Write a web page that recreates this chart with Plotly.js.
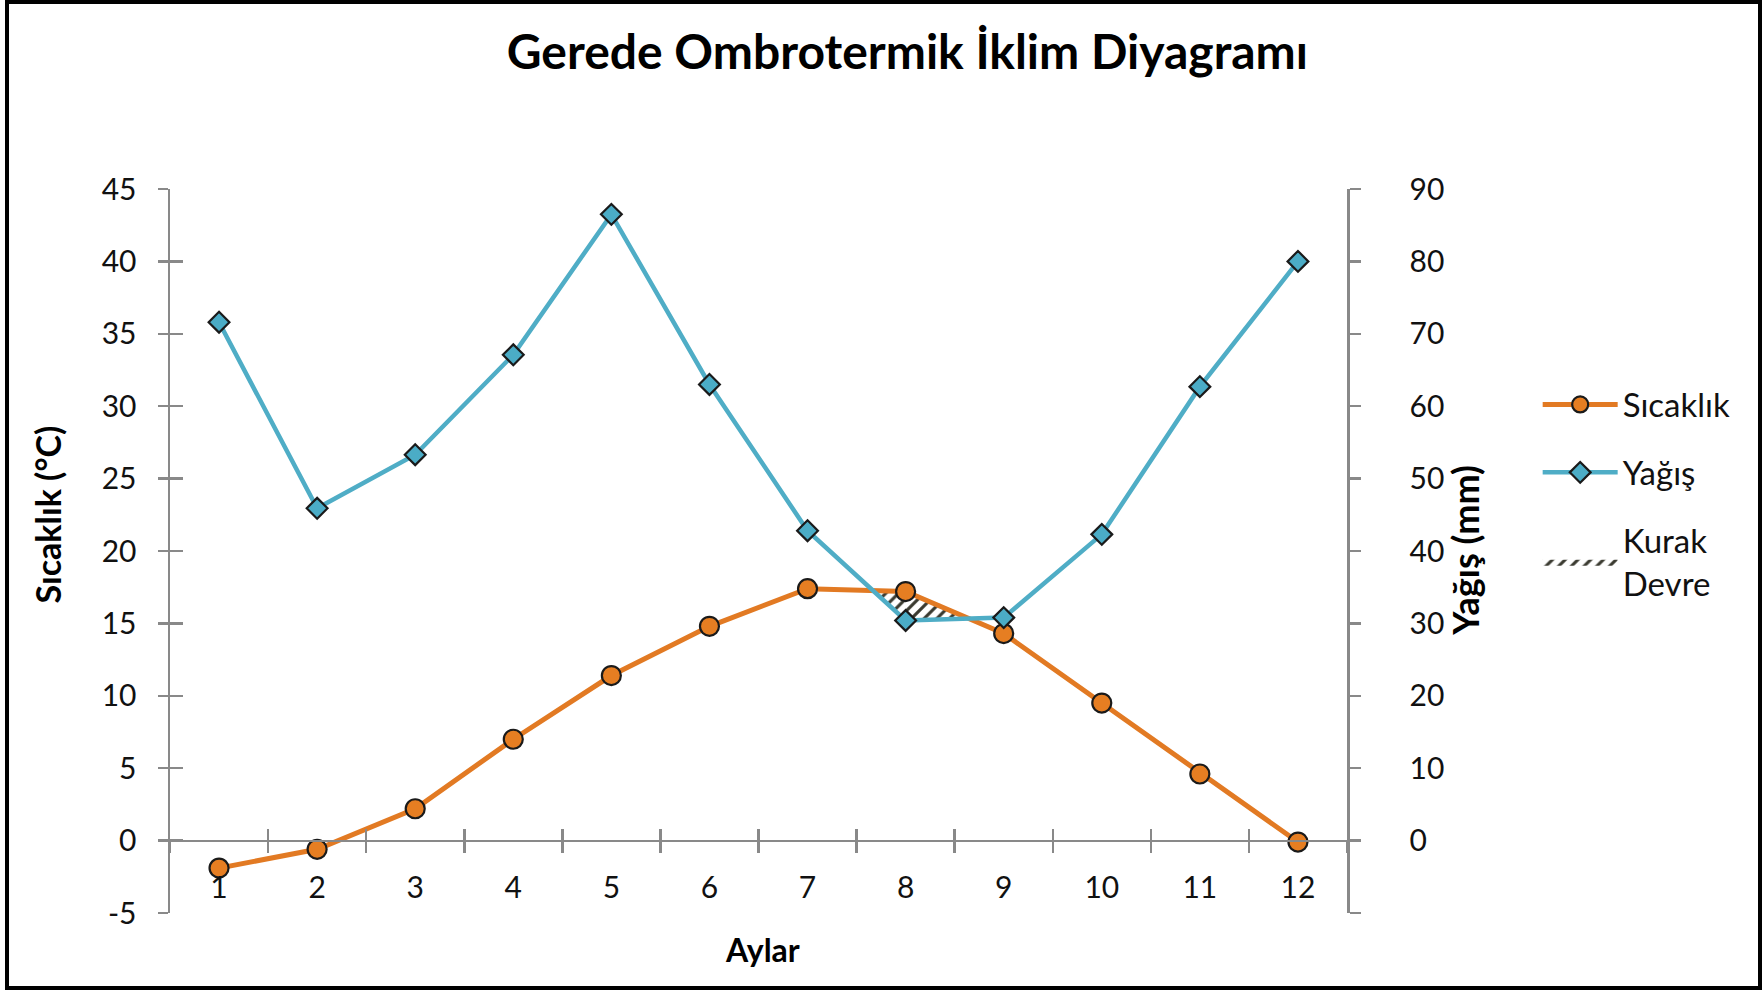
<!DOCTYPE html>
<html>
<head>
<meta charset="utf-8">
<script src="https://cdn.plot.ly/plotly-3.0.1.min.js"></script>
<style>
  html, body { margin: 0; padding: 0; background: #fff; }
  #wrap { position: relative; width: 1762px; height: 991px; }
  #chart { width: 1762px; height: 991px; }
  #frame { position: absolute; left: 5px; top: 0px; right: 0px; bottom: 1px; border: 4px solid #000; pointer-events: none; }
</style>
</head>
<body>
<div id="wrap"><div id="chart"></div><div id="frame"></div></div>
<script>
// ---- data ----
const months = [1, 2, 3, 4, 5, 6, 7, 8, 9, 10, 11, 12];
const monthLabels = ["1", "2", "3", "4", "5", "6", "7", "8", "9", "10", "11", "12"];
const sicaklik = [-1.9, -0.6, 2.2, 7.0, 11.4, 14.8, 17.4, 17.2, 14.3, 9.5, 4.6, -0.1];
const yagis = [71.6, 45.9, 53.3, 67.1, 86.5, 63.0, 42.8, 30.4, 30.8, 42.3, 62.7, 80.0];
const tempTicks = [-5, 0, 5, 10, 15, 20, 25, 30, 35, 40, 45];
const tempTickLabels = ["-5", "0", "5", "10", "15", "20", "25", "30", "35", "40", "45"];
const precTicks = [-10, 0, 10, 20, 30, 40, 50, 60, 70, 80, 90];
const precTickLabels = ["", "0", "10", "20", "30", "40", "50", "60", "70", "80", "90"];

const tempRange = [-5, 45];
const precRange = [-10, 90];
const k = (tempRange[1] - tempRange[0]) / (precRange[1] - precRange[0]);
const xRange = [months[0] - 0.5, months[months.length - 1] + 0.5];
const boundaries = months.map(m => m - 0.5).concat([months[months.length - 1] + 0.5]);
const xPos = (0 - tempRange[0]) / (tempRange[1] - tempRange[0]);

// ---- dry period polygons (temperature above precipitation/2) ----
const px = [], py = [];
(function () {
  const d = months.map((m, i) => sicaklik[i] - yagis[i] * k);
  let upper = [], lower = [];
  function close() {
    if (upper.length) {
      const poly = upper.concat(lower.slice().reverse());
      poly.forEach(p => { px.push(p[0]); py.push(p[1]); });
      px.push(null); py.push(null);
    }
    upper = []; lower = [];
  }
  for (let i = 0; i < months.length; i++) {
    if (d[i] > 0) {
      upper.push([months[i], sicaklik[i]]);
      lower.push([months[i], yagis[i] * k]);
    }
    if (i < months.length - 1 && (d[i] > 0) !== (d[i + 1] > 0)) {
      const t = d[i] / (d[i] - d[i + 1]);
      const cx = months[i] + t * (months[i + 1] - months[i]);
      const cy = sicaklik[i] + t * (sicaklik[i + 1] - sicaklik[i]);
      upper.push([cx, cy]);
      if (d[i] > 0) close();
    }
  }
  close();
})();

const gray = '#898989';
const font = 'Lato, "Open Sans", sans-serif';

const traces = [
  {
    x: px, y: py, type: 'scatter', mode: 'lines', fill: 'toself',
    line: { width: 0, color: 'rgba(0,0,0,0)' },
    fillcolor: 'white',
    fillpattern: { shape: '/', fgcolor: '#3a3a30', bgcolor: 'white', size: 9, solidity: 0.35 },
    name: 'Kurak<br>Devre', legendrank: 3, legendgroup: 'c', hoverinfo: 'skip'
  },
  {
    x: months, y: sicaklik, type: 'scatter', mode: 'lines+markers', name: 'Sıcaklık',
    line: { color: '#E27A23', width: 5 },
    marker: { symbol: 'circle', size: 19, color: '#E67E22', line: { color: '#1a1a1a', width: 2.2 } },
    legendrank: 1, legendgroup: 'a', yaxis: 'y'
  },
  {
    x: months, y: yagis, type: 'scatter', mode: 'lines+markers', name: 'Yağış',
    line: { color: '#4FADC6', width: 4.5 },
    marker: { symbol: 'diamond', size: 16, color: '#4BACC6', line: { color: '#1a1a1a', width: 2.2 } },
    legendrank: 2, legendgroup: 'b', yaxis: 'y2'
  },
  // helper traces so the tick-only overlay axes are drawn
  { x: months, y: sicaklik, xaxis: 'x2', yaxis: 'y3', mode: 'markers', marker: { opacity: 0 }, showlegend: false, hoverinfo: 'skip' },
  { x: months, y: sicaklik, xaxis: 'x3', yaxis: 'y3', mode: 'markers', marker: { opacity: 0 }, showlegend: false, hoverinfo: 'skip' }
];

const baseTickAxis = {
  range: xRange, anchor: 'free', position: xPos, overlaying: 'x',
  tickmode: 'array', tickvals: boundaries, showticklabels: false,
  tickcolor: gray, tickwidth: 2.5, showline: false, showgrid: false, zeroline: false
};

const layout = {
  width: 1762, height: 991,
  margin: { l: 170, r: 415, t: 189, b: 78 },
  paper_bgcolor: 'white', plot_bgcolor: 'white',
  font: { family: font, color: '#111', size: 30 },
  title: {
    text: '<b>Gerede Ombrotermik İklim Diyagramı</b>',
    font: { family: font, size: 48, color: '#000' },
    x: 0.515, xref: 'container', xanchor: 'center',
    y: 1 - 52 / 991, yref: 'container', yanchor: 'middle'
  },
  showlegend: true,
  legend: {
    x: 1.162, xanchor: 'left', y: 0.741, yanchor: 'top',
    font: { family: font, size: 33, color: '#111' },
    itemwidth: 75, tracegroupgap: 22, bgcolor: 'rgba(0,0,0,0)', traceorder: 'grouped'
  },
  xaxis: {
    type: 'linear', range: xRange, anchor: 'free', position: xPos,
    tickmode: 'array', tickvals: months, ticktext: monthLabels, ticks: '',
    showline: true, linecolor: gray, linewidth: 2.5,
    showgrid: false, zeroline: false,
    tickfont: { family: font, size: 30, color: '#111' }, ticklabelstandoff: 20
  },
  xaxis2: Object.assign({}, baseTickAxis, { ticks: 'outside', ticklen: 11 }),
  xaxis3: Object.assign({}, baseTickAxis, { ticks: 'inside', ticklen: 12 }),
  yaxis: {
    range: tempRange, tickmode: 'array', tickvals: tempTicks, ticktext: tempTickLabels,
    ticks: 'outside', ticklen: 10, tickwidth: 2.5, tickcolor: gray,
    showline: true, linecolor: gray, linewidth: 2.5,
    showgrid: false, zeroline: false,
    tickfont: { family: font, size: 30, color: '#111' }, ticklabelstandoff: 15
  },
  yaxis3: {
    range: tempRange, overlaying: 'y', side: 'left', tickmode: 'array', tickvals: tempTicks,
    ticks: 'inside', ticklen: 13, tickwidth: 2.5, tickcolor: gray,
    showticklabels: false, showline: false, showgrid: false, zeroline: false
  },
  yaxis2: {
    range: precRange, overlaying: 'y', side: 'right', anchor: 'x',
    tickmode: 'array', tickvals: precTicks, ticktext: precTickLabels,
    ticks: 'outside', ticklen: 11, tickwidth: 2.5, tickcolor: gray,
    showline: true, linecolor: gray, linewidth: 2.5,
    showgrid: false, zeroline: false,
    tickfont: { family: font, size: 30, color: '#111' }, ticklabelstandoff: 43
  },
  annotations: [
    { text: '<b>Sıcaklık (°C)</b>', xref: 'paper', yref: 'paper', x: -0.123, y: 0.55,
      textangle: -90, showarrow: false, font: { family: font, size: 34, color: '#000' } },
    { text: '<b>Yağış (mm)</b>', xref: 'paper', yref: 'paper', x: 1.121, y: 0.501,
      textangle: -90, showarrow: false, font: { family: font, size: 36, color: '#000' } },
    { text: '<b>Aylar</b>', xref: 'paper', yref: 'paper', x: 0.503, y: -0.08,
      showarrow: false, font: { family: font, size: 32, color: '#000' } }
  ]
};

Plotly.newPlot('chart', traces, layout, { displayModeBar: false, staticPlot: true });
</script>
</body>
</html>
